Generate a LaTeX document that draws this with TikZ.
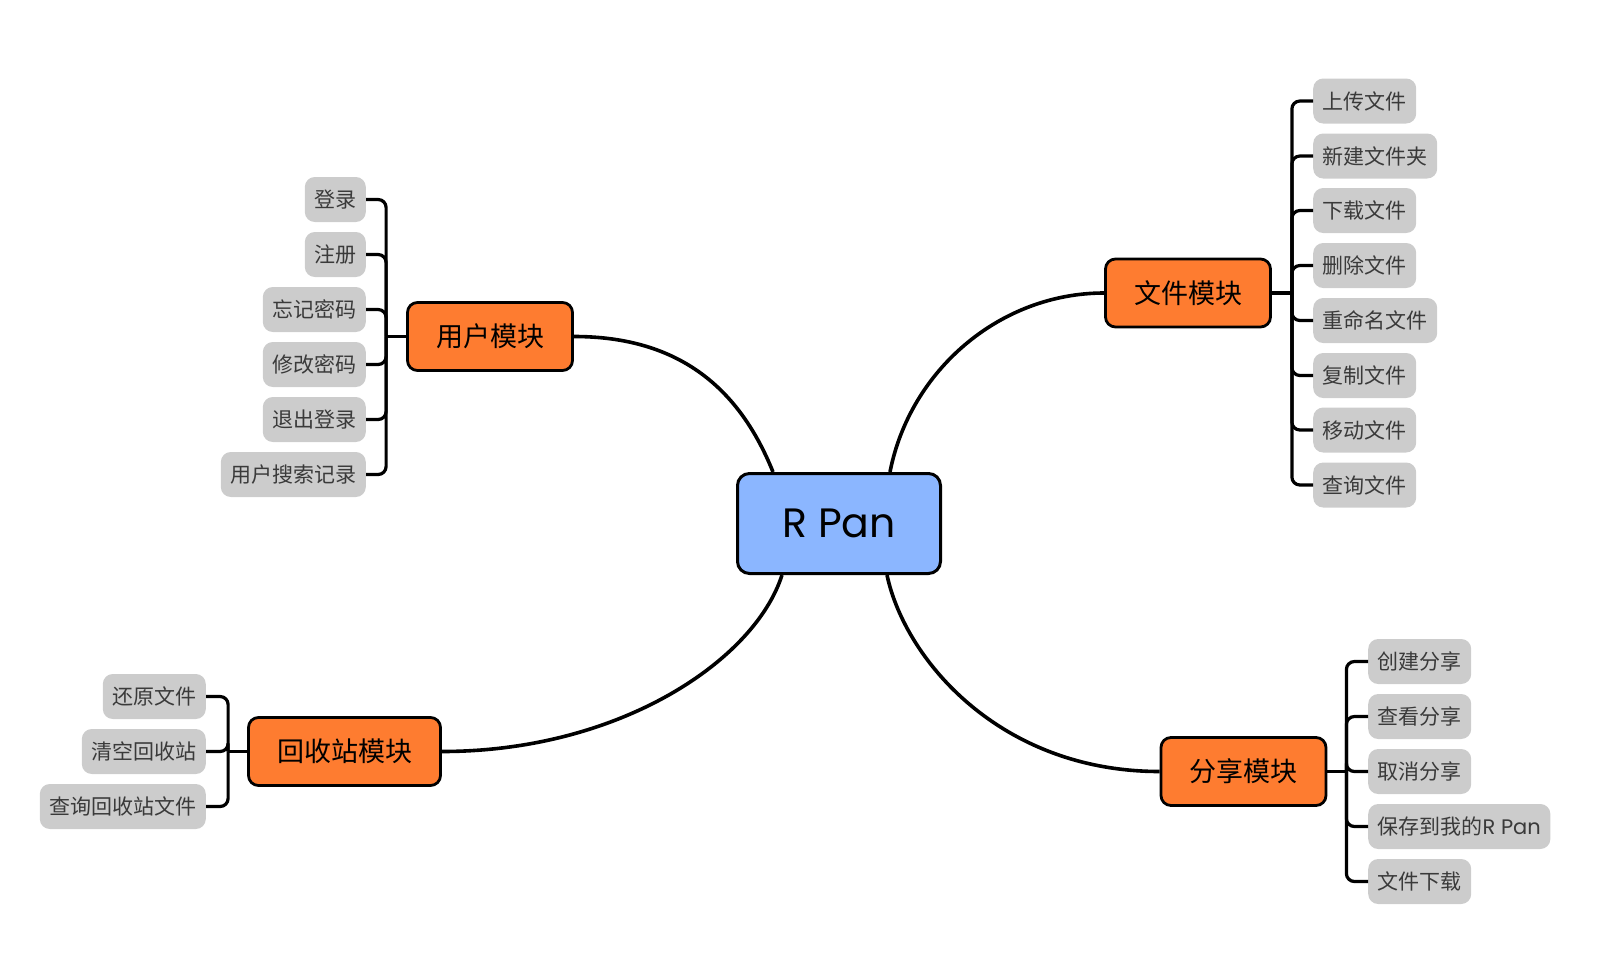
\documentclass[tikz,border=0pt]{standalone}
\usepackage{fontspec}
\setmainfont{Noto Sans CJK SC}
\newfontfamily\latinfont{Poppins}
\definecolor{rootblue}{RGB}{139,182,255}
\definecolor{topicorange}{RGB}{254,124,48}
\definecolor{leafgray}{RGB}{204,204,204}
\definecolor{leaftext}{RGB}{58,58,58}
\begin{document}
\begin{tikzpicture}[x=1pt,y=-1pt,
  root/.style={draw=black, line width=3pt, fill=rootblue, rounded corners=12pt, minimum width=203pt, minimum height=100pt, inner sep=0pt, font=\latinfont\fontsize{41}{46}\selectfont},
  topic/.style={draw=black, line width=2.8pt, fill=topicorange, rounded corners=10pt, minimum height=68pt, inner xsep=28.5pt, inner ysep=0pt, font=\fontsize{27}{30}\selectfont},
  leaf/.style={fill=leafgray, rounded corners=10pt, minimum height=45pt, inner xsep=9.5pt, inner ysep=0pt, text=leaftext, font=\fontsize{21}{24}\selectfont},
  branch/.style={line width=3.6pt, draw=black},
  bracket/.style={line width=3.2pt, draw=black, rounded corners=8pt}
]
\useasboundingbox (0,0) rectangle (1610,964);

% main nodes
\node[root] (c) at (839,523.5) {R Pan};
\node[topic] (user) at (490,336.5) {用户模块};
\node[topic] (file) at (1188,293) {文件模块};
\node[topic] (recycle) at (344.5,751.5) {回收站模块};
\node[topic] (share) at (1243.5,771.5) {分享模块};

% user leaves
\node[leaf, anchor=east] (u1) at (366,199.5) {登录};
\node[leaf, anchor=east] (u2) at (366,254.5) {注册};
\node[leaf, anchor=east] (u3) at (366,309.5) {忘记密码};
\node[leaf, anchor=east] (u4) at (366,364.5) {修改密码};
\node[leaf, anchor=east] (u5) at (366,419.5) {退出登录};
\node[leaf, anchor=east] (u6) at (366,474.5) {用户搜索记录};

% file leaves
\node[leaf, anchor=west] (f1) at (1313,101) {上传文件};
\node[leaf, anchor=west] (f2) at (1313,156) {新建文件夹};
\node[leaf, anchor=west] (f3) at (1313,210.5) {下载文件};
\node[leaf, anchor=west] (f4) at (1313,265.5) {删除文件};
\node[leaf, anchor=west] (f5) at (1313,320.5) {重命名文件};
\node[leaf, anchor=west] (f6) at (1313,375.5) {复制文件};
\node[leaf, anchor=west] (f7) at (1313,430) {移动文件};
\node[leaf, anchor=west] (f8) at (1313,485) {查询文件};

% recycle leaves
\node[leaf, anchor=east] (r1) at (206,696.5) {还原文件};
\node[leaf, anchor=east] (r2) at (206,751.5) {清空回收站};
\node[leaf, anchor=east] (r3) at (206,806.5) {查询回收站文件};

% share leaves
\node[leaf, anchor=west] (s1) at (1368,661.5) {创建分享};
\node[leaf, anchor=west] (s2) at (1368,716.5) {查看分享};
\node[leaf, anchor=west] (s3) at (1368,771.5) {取消分享};
\node[leaf, anchor=west] (s4) at (1368,826.5) {保存到我的{\latinfont R Pan}};
\node[leaf, anchor=west] (s5) at (1368,881.5) {文件下载};

% main branches
\draw[branch] (user.east) .. controls +(107,0) and +(-33,-82) .. ([xshift=-66pt]c.north);
\draw[branch] (file.west) .. controls +(-104,0) and +(20,-102) .. ([xshift=51pt]c.north);
\draw[branch] (recycle.east) .. controls +(178,0) and +(-27,85) .. ([xshift=-57pt]c.south);
\draw[branch] (share.west) .. controls +(-159,0) and +(18,85) .. ([xshift=48pt]c.south);

% junctions
\coordinate (ju) at ([xshift=-20pt]user.west);
\coordinate (jf) at ([xshift=20pt]file.east);
\coordinate (jr) at ([xshift=-19pt]recycle.west);
\coordinate (js) at ([xshift=19pt]share.east);

\draw[bracket] (user.west) -- (ju);
\foreach \n in {u1,u2,u3,u4,u5,u6} \draw[bracket] (ju) |- (\n.east);
\draw[bracket] (file.east) -- (jf);
\foreach \n in {f1,f2,f3,f4,f5,f6,f7,f8} \draw[bracket] (jf) |- (\n.west);
\draw[bracket] (recycle.west) -- (jr);
\foreach \n in {r1,r2,r3} \draw[bracket] (jr) |- (\n.east);
\draw[bracket] (share.east) -- (js);
\foreach \n in {s1,s2,s3,s4,s5} \draw[bracket] (js) |- (\n.west);
\end{tikzpicture}
\end{document}
